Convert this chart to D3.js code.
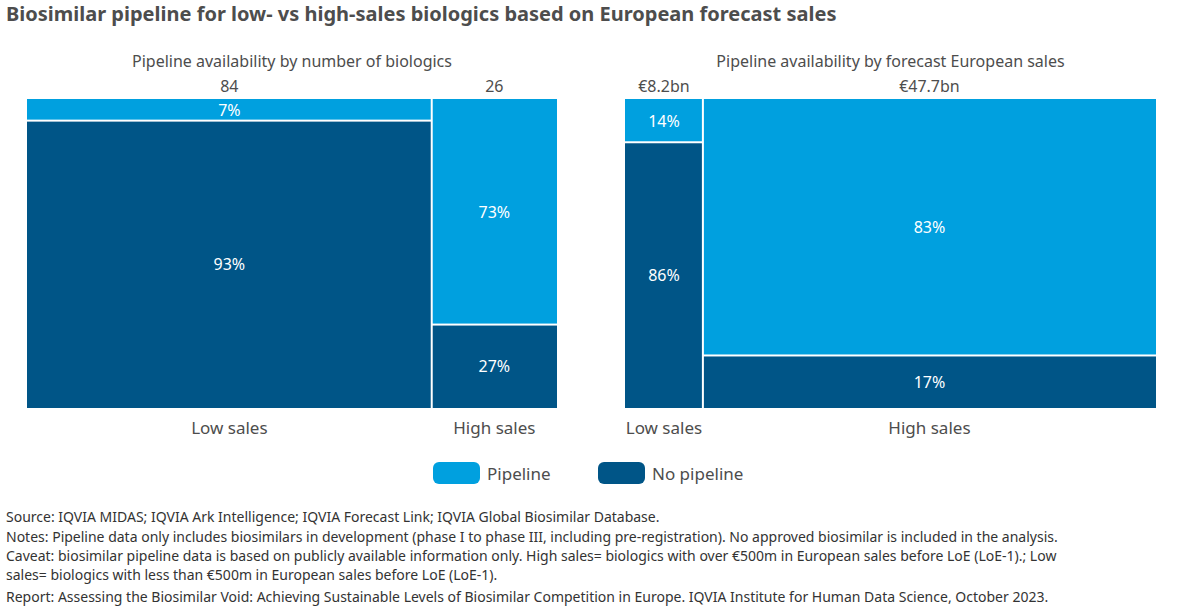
<!DOCTYPE html>
<html><head><meta charset="utf-8">
<script src="https://cdn.jsdelivr.net/npm/d3@7"></script>
<style>body{margin:0;background:#fff;font-family:"Noto Sans",sans-serif;}</style>
</head><body><svg id="c" width="1180" height="615"></svg>
<script>
const categories = ["Low sales","High sales"];
const leftTotals = [84, 26];
const leftTotalLabels = ["84","26"];
const leftPipeline = [7, 73];
const leftNoPipeline = [93, 27];
const rightTotals = [8.2, 47.7];
const rightTotalLabels = ["€8.2bn","€47.7bn"];
const rightPipeline = [14, 83];
const rightNoPipeline = [86, 17];
const seriesNames = ["Pipeline","No pipeline"];
const colors = ["#00a0df","#005587"];
const notes = [
 "Source: IQVIA MIDAS; IQVIA Ark Intelligence; IQVIA Forecast Link; IQVIA Global Biosimilar Database.",
 "Notes: Pipeline data only includes biosimilars in development (phase I to phase III, including pre-registration). No approved biosimilar is included in the analysis.",
 "Caveat: biosimilar pipeline data is based on publicly available information only. High sales= biologics with over €500m in European sales before LoE (LoE-1).; Low",
 "sales= biologics with less than €500m in European sales before LoE (LoE-1).",
 "Report: Assessing the Biosimilar Void: Achieving Sustainable Levels of Biosimilar Competition in Europe. IQVIA Institute for Human Data Science, October 2023."
];
const svg = d3.select("#c");
const txt = "#4d4d4d";
svg.append("text").attr("x",6).attr("y",21).attr("font-size",20).attr("font-weight",700).attr("fill",txt)
 .text("Biosimilar pipeline for low- vs high-sales biologics based on European forecast sales");

function panel(x0,x1,title,totals,totLabels,pipe,nopipe){
  const y = d3.scaleLinear().domain([0,100]).range([99,408]);
  const sum = d3.sum(totals);
  const x = d3.scaleLinear().domain([0,sum]).range([x0,x1]);
  svg.append("text").attr("x",(x0+x1)/2).attr("y",67).attr("text-anchor","middle").attr("font-size",16).attr("fill",txt).text(title);
  let acc=0;
  totals.forEach((t,i)=>{
    const a=x(acc), b=x(acc+t); acc+=t;
    const gap = i>0?1:0, gapR = i<totals.length-1?1:0;
    const l=a+gap, w=b-a-gap-gapR, cx=(a+b)/2;
    svg.append("rect").attr("x",l).attr("y",y(0)).attr("width",w).attr("height",y(pipe[i])-y(0)-1).attr("fill",colors[0]);
    svg.append("rect").attr("x",l).attr("y",y(pipe[i])+1).attr("width",w).attr("height",y(100)-y(pipe[i])-1).attr("fill",colors[1]);
    svg.append("text").attr("x",cx).attr("y",(y(0)+y(pipe[i]))/2+6).attr("text-anchor","middle").attr("font-size",16).attr("fill","#fff").text(pipe[i]+"%");
    svg.append("text").attr("x",cx).attr("y",(y(pipe[i])+y(100))/2+6).attr("text-anchor","middle").attr("font-size",16).attr("fill","#fff").text(nopipe[i]+"%");
    svg.append("text").attr("x",cx).attr("y",92).attr("text-anchor","middle").attr("font-size",16).attr("fill",txt).text(totLabels[i]);
    svg.append("text").attr("x",cx).attr("y",434).attr("text-anchor","middle").attr("font-size",17).attr("fill",txt).text(categories[i]);
  });
}
panel(27,557,"Pipeline availability by number of biologics",leftTotals,leftTotalLabels,leftPipeline,leftNoPipeline);
panel(625,1156,"Pipeline availability by forecast European sales",rightTotals,rightTotalLabels,rightPipeline,rightNoPipeline);

const lx=[433,598];
seriesNames.forEach((s,i)=>{
  svg.append("rect").attr("x",lx[i]).attr("y",462).attr("width",47).attr("height",22).attr("rx",6).attr("fill",colors[i]);
  svg.append("text").attr("x",lx[i]+54).attr("y",480).attr("font-size",17).attr("fill",txt).text(s);
});
const ny=[522,542,561,580,602];
notes.forEach((n,i)=>svg.append("text").attr("x",6).attr("y",ny[i]).attr("font-size",14).attr("fill","#333").text(n));
</script></body></html>
